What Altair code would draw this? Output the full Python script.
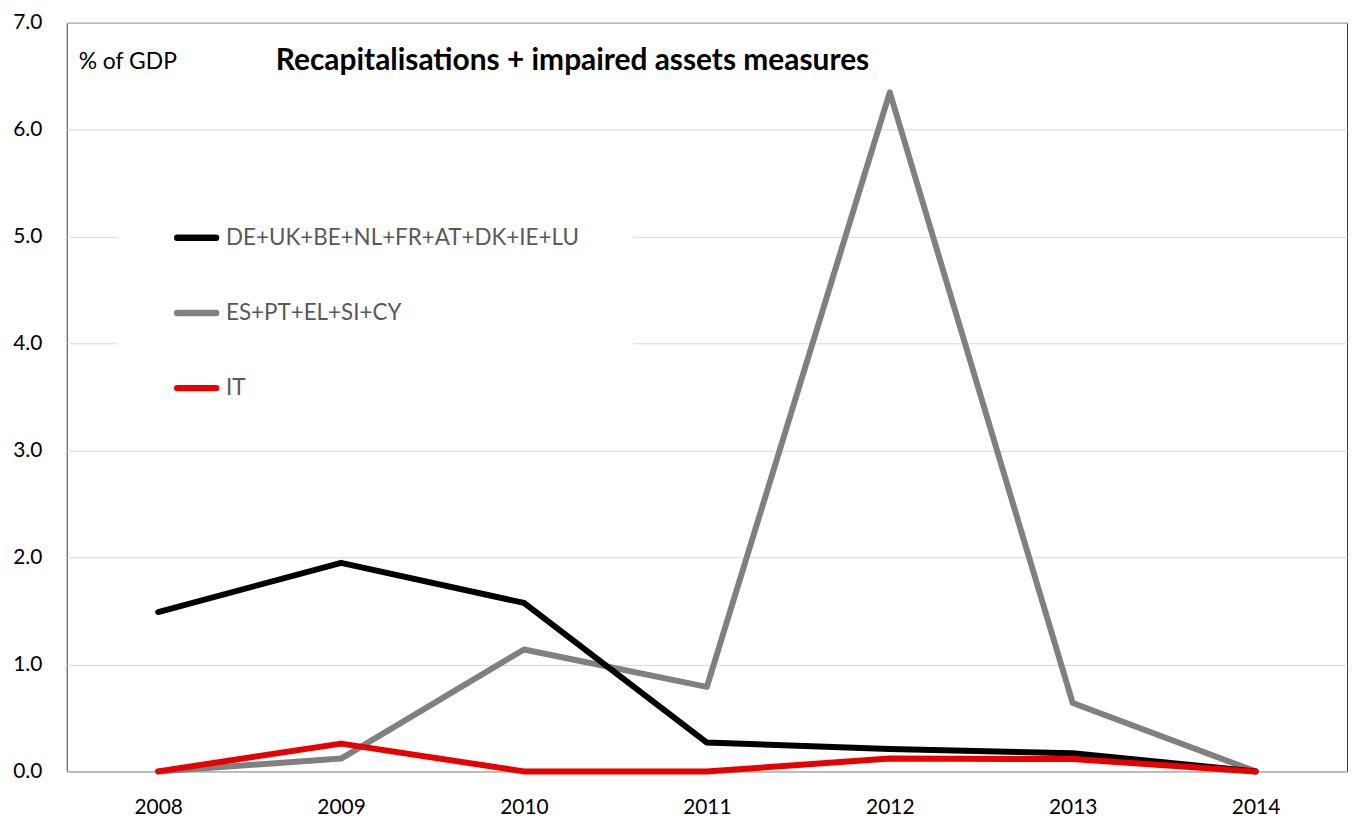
import altair as alt
import pandas as pd

years = ["2008", "2009", "2010", "2011", "2012", "2013", "2014"]
core = [1.49, 1.95, 1.575, 0.27, 0.21, 0.17, 0.0]
periphery = [0.0, 0.12, 1.14, 0.79, 6.35, 0.64, 0.0]
italy = [0.0, 0.26, 0.0, 0.0, 0.12, 0.115, 0.0]
series_names = ["DE+UK+BE+NL+FR+AT+DK+IE+LU", "ES+PT+EL+SI+CY", "IT"]
series_colors = ["#000000", "#808080", "#e60000"]
y_ticks = [0, 1, 2, 3, 4, 5, 6, 7]

rows = []
for name, vals in zip(series_names, [core, periphery, italy]):
    for yr, v in zip(years, vals):
        rows.append({"year": yr, "value": v, "series": name})
df = pd.DataFrame(rows)
legend_df = pd.DataFrame({"series": series_names})
one = pd.DataFrame({"k": [0]})

FONT = "Lato"
color_scale = alt.Scale(domain=series_names, range=series_colors)
x_enc = alt.X("year:O", scale=alt.Scale(type="point", domain=years, padding=0.5),
              axis=alt.Axis(title=None, labelAngle=0, ticks=False, domain=False,
                            labelFontSize=21, labelColor="#000000", labelFont=FONT,
                            labelPadding=25, grid=False))


def y_enc(show_axis):
    if show_axis:
        ax = alt.Axis(title=None, values=y_ticks, format=".1f", grid=True,
                      gridColor="#d9d9d9", gridWidth=1, ticks=False, domain=False,
                      labelFontSize=21, labelColor="#000000", labelFont=FONT,
                      labelPadding=25)
    else:
        ax = None
    return alt.Y("value:Q", scale=alt.Scale(domain=[0, 7], nice=False), axis=ax)


mask = alt.Chart(one).mark_rect(fill="white").encode(
    x=alt.value(51), x2=alt.value(569), y=alt.value(164), y2=alt.value(399)
)


def line_layer(name, show_axis):
    return alt.Chart(df).transform_filter(alt.datum.series == name).mark_line(
        strokeWidth=6, strokeCap="round", strokeJoin="round"
    ).encode(
        x=x_enc,
        y=y_enc(show_axis),
        color=alt.Color("series:N", scale=color_scale, legend=None),
    )


gray_line = line_layer(series_names[1], True)
black_line = line_layer(series_names[0], False)
red_line = line_layer(series_names[2], False)

leg_y = alt.Y("series:N", scale=alt.Scale(type="point", domain=series_names,
                                          range=[216, 367], padding=0), axis=None)

leg_sym = alt.Chart(legend_df).mark_rule(strokeWidth=6.5, strokeCap="round").encode(
    x=alt.value(111), x2=alt.value(150), y=leg_y,
    color=alt.Color("series:N", scale=color_scale, legend=None),
)
leg_txt = alt.Chart(legend_df).mark_text(
    align="left", baseline="middle", fontSize=22.5, font=FONT, color="#595959"
).encode(x=alt.value(160), y=leg_y, text="series:N")

title_txt = alt.Chart(one).mark_text(
    align="left", baseline="alphabetic", fontSize=30, font=FONT, fontWeight="bold",
    color="#000000"
).encode(x=alt.value(210), y=alt.value(47),
         text=alt.value("Recapitalisations + impaired assets measures"))

unit_txt = alt.Chart(one).mark_text(
    align="left", baseline="alphabetic", fontSize=23, font=FONT, color="#000000"
).encode(x=alt.value(12), y=alt.value(46), text=alt.value("% of GDP"))

chart = alt.layer(
    mask, gray_line, black_line, red_line, leg_sym, leg_txt, title_txt, unit_txt
).resolve_scale(y="independent").properties(
    width=1286, height=752,
    autosize=alt.AutoSizeParams(type="none"),
    padding={"left": 59, "top": 13, "right": 2, "bottom": 45},
).configure_view(stroke="#3a3a3a", strokeWidth=1)

chart.save("out.html", embed_options={"renderer": "svg", "actions": False})
